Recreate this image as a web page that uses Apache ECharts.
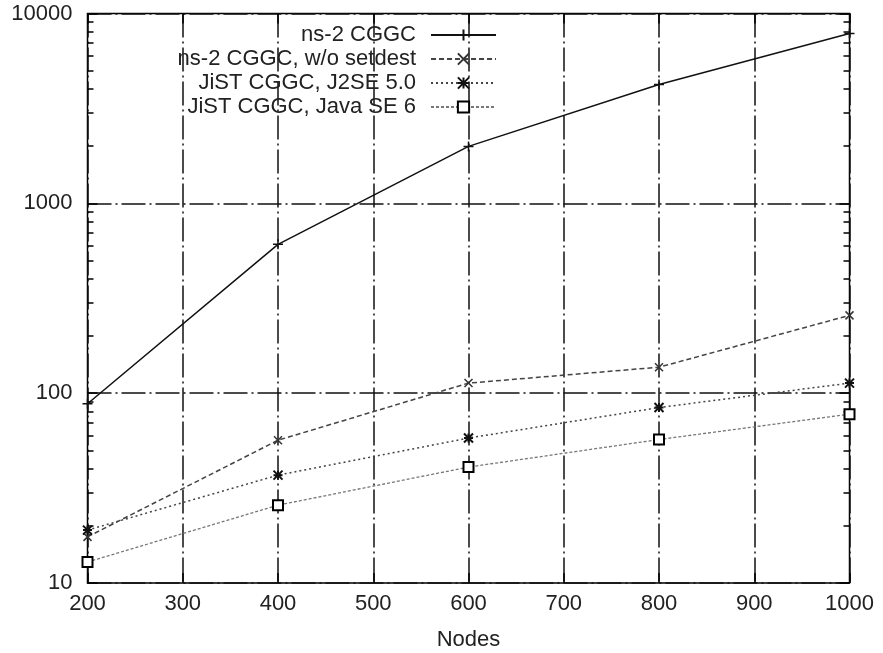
<!DOCTYPE html>
<html>
<head>
<meta charset="utf-8">
<script src="https://cdn.jsdelivr.net/npm/echarts@6/dist/echarts.min.js"></script>
<style>html,body{margin:0;padding:0;background:#fff}#chart{width:883px;height:653px}</style>
</head>
<body>
<div id="chart"></div>
<script>
// nodes on x, time (log scale) on y
const nodes = [200, 400, 600, 800, 1000]
const ns2 = [88, 608, 1995, 4230, 7850]
const ns2NoSetdest = [17.5, 56.5, 113, 137, 257]
const jistJ2se5 = [19, 37, 58, 84, 113]
const jistJavaSe6 = [12.9, 25.7, 40.8, 57, 77.5]
const seriesNames = ["ns-2 CGGC", "ns-2 CGGC, w/o setdest", "JiST CGGC, J2SE 5.0", "JiST CGGC, Java SE 6"]
const yTicks = [10, 100, 1000, 10000]
const yMinorTicks = [20,30,40,50,60,70,80,90,200,300,400,500,600,700,800,900,2000,3000,4000,5000,6000,7000,8000,9000]

const font = "Liberation Sans"
const gridDash = [24, 4, 2, 4]
const pts = vals => nodes.map((n, i) => [n, vals[i]])

const chart = echarts.init(document.getElementById("chart"))
const logAxis = (extra) => Object.assign({
  type: "log", logBase: 10, min: 10, max: 10000,
  axisLine: { show: false }, axisLabel: { show: false },
  splitLine: { show: false }, axisTick: { show: false }
}, extra)

chart.setOption({
  animation: false,
  grid: { left: 87.5, right: 33.5, top: 13.5, bottom: 70, outerBoundsMode: "none", containLabel: false,
    show: true, borderColor: "#000", borderWidth: 1.5, backgroundColor: "transparent" },
  legend: {
    orient: "vertical", align: "right", right: 386, top: 23, padding: 0,
    itemWidth: 65, itemHeight: 14, itemGap: 0,
    textStyle: { fontFamily: font, fontSize: 22, color: "#222", lineHeight: 24, padding: [0, 10, 0, 0] },
    data: seriesNames
  },
  xAxis: [
    { type: "value", min: 200, max: 1000, interval: 100, name: "Nodes", nameLocation: "middle", nameGap: 46,
      nameTextStyle: { fontFamily: font, fontSize: 22, color: "#222" },
      axisLine: { show: false },
      axisTick: { inside: true, length: 10, lineStyle: { color: "#000", width: 1.5 } },
      axisLabel: { fontFamily: font, fontSize: 22, color: "#222", margin: 10, formatter: v => String(v) },
      splitLine: { show: true, lineStyle: { color: "#111", width: 1.5, type: gridDash } } },
    { type: "value", position: "top", min: 200, max: 1000, interval: 100,
      axisLine: { show: false }, axisLabel: { show: false }, splitLine: { show: false },
      axisTick: { inside: true, length: 10, lineStyle: { color: "#000", width: 1.5 } } }
  ],
  yAxis: [
    logAxis({ position: "left",
      axisLabel: { show: true, fontFamily: font, fontSize: 22, color: "#222", margin: 15, customValues: yTicks, formatter: v => String(Math.round(v)) },
      axisTick: { show: true, inside: true, length: 10, customValues: yTicks, lineStyle: { color: "#000", width: 1.5 } },
      splitLine: { show: true, lineStyle: { color: "#111", width: 1.5, type: gridDash } } }),
    logAxis({ position: "left",
      axisTick: { show: true, inside: true, length: 6, customValues: yMinorTicks, lineStyle: { color: "#000", width: 1.5 } } }),
    logAxis({ position: "right",
      axisTick: { show: true, inside: true, length: 10, customValues: yTicks, lineStyle: { color: "#000", width: 1.5 } } }),
    logAxis({ position: "right",
      axisTick: { show: true, inside: true, length: 6, customValues: yMinorTicks, lineStyle: { color: "#000", width: 1.5 } } })
  ],
  series: [
    { name: seriesNames[0], type: "line", data: pts(ns2),
      symbol: "path://M0,5L10,5M5,0L5,10", symbolSize: 10,
      itemStyle: { color: "#111", borderColor: "#111", borderWidth: 1.5 },
      lineStyle: { color: "#111", width: 1.5 } },
    { name: seriesNames[1], type: "line", data: pts(ns2NoSetdest),
      symbol: "path://M0,0L10,10M10,0L0,10", symbolSize: 8,
      itemStyle: { color: "#333", borderColor: "#333", borderWidth: 1.5 },
      lineStyle: { color: "#444", width: 1.5, type: [5, 3] } },
    { name: seriesNames[2], type: "line", data: pts(jistJ2se5),
      symbol: "path://M0,0L10,10M10,0L0,10M5,0L5,10M0,5L10,5", symbolSize: 9,
      itemStyle: { color: "#111", borderColor: "#111", borderWidth: 2 },
      lineStyle: { color: "#444", width: 1.5, type: [2, 3] } },
    { name: seriesNames[3], type: "line", data: pts(jistJavaSe6),
      symbol: "emptyRect", symbolSize: 10,
      itemStyle: { color: "#000", borderColor: "#000", borderWidth: 1.5 },
      lineStyle: { color: "#777", width: 1.3, type: [3, 2] } }
  ]
})
</script>
</body>
</html>
